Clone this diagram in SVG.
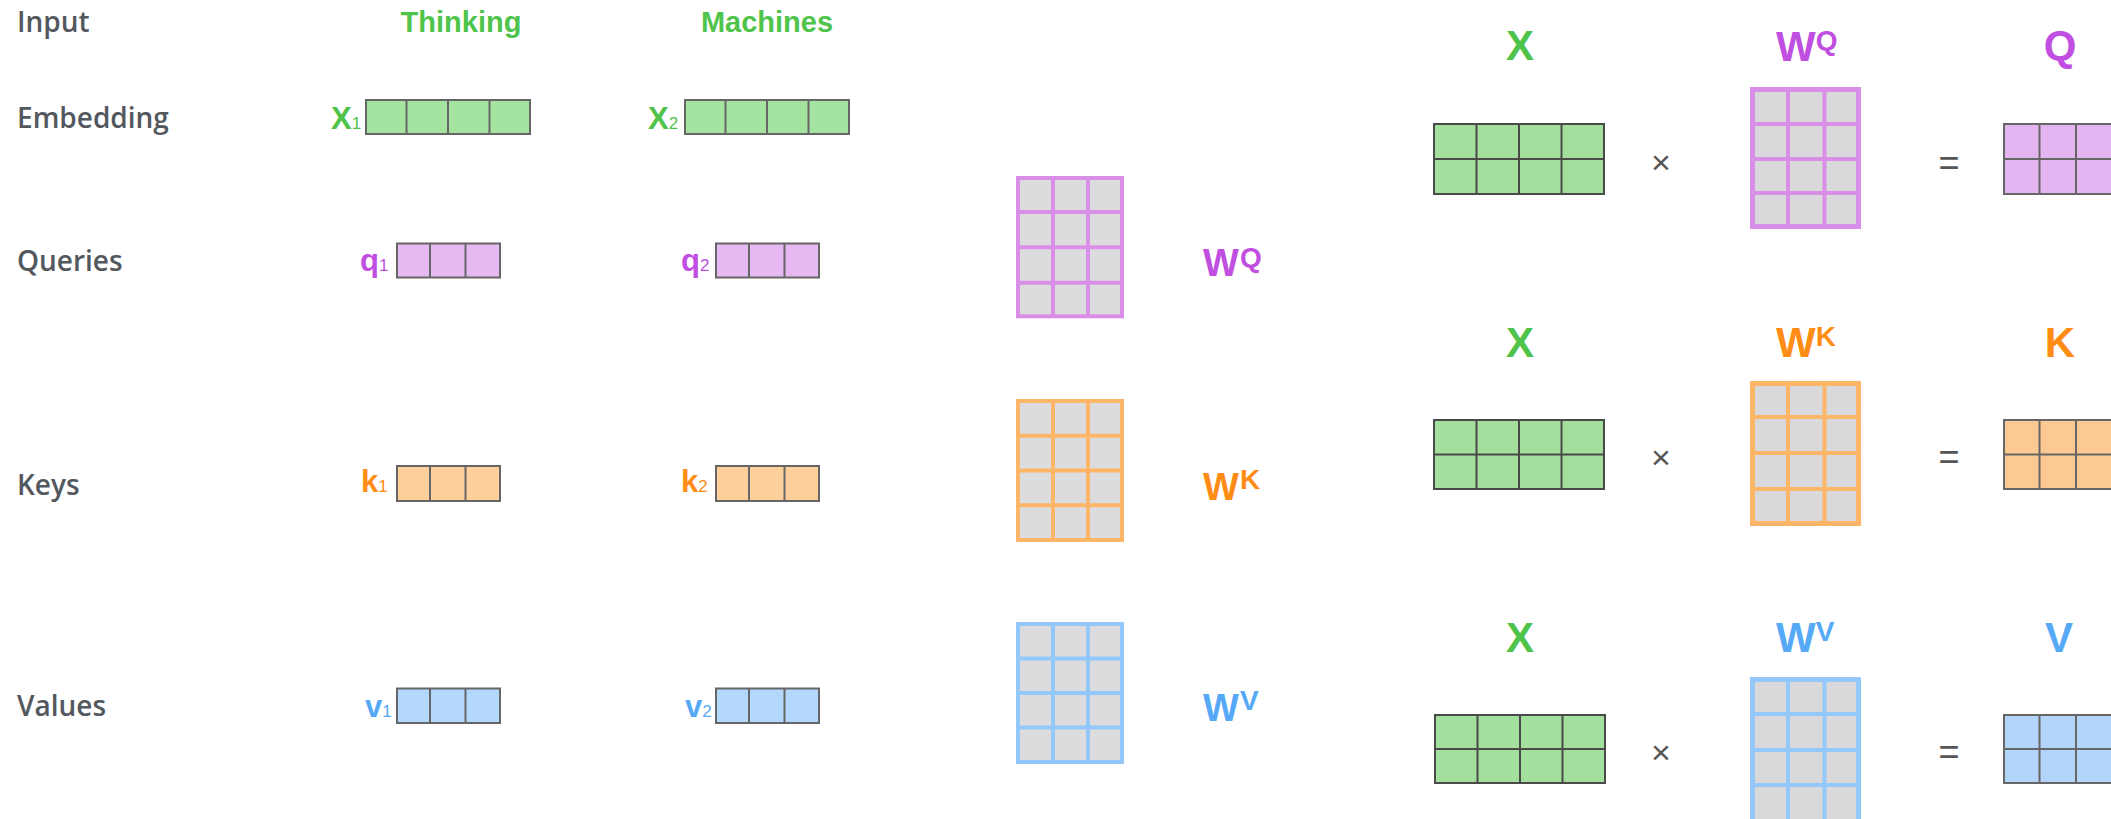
<svg xmlns="http://www.w3.org/2000/svg" width="2111" height="819" viewBox="0 0 2111 819">
<style>
.lbl{font-family:"Open Sans","Liberation Sans",sans-serif;font-size:28px;font-weight:600;fill:#53585e}
.word{font-family:"Liberation Sans",Arial,sans-serif;font-weight:bold;font-size:29px;fill:#4fc34a}
.ln{fill:none;stroke:#666;stroke-width:2}
.lnd{fill:none;stroke:#4a4a4a;stroke-width:2}
.big{font-family:"Liberation Sans",Arial,sans-serif;font-weight:bold;font-size:31px}
.sub{font-family:"Liberation Sans",Arial,sans-serif;font-size:17px}
.cg{fill:#4fc34a}.cp{fill:#c04ee0}.co{fill:#ff8c14}.cb{fill:#56a9f7}
.wm{fill:#dcdcdf;stroke-width:4}
.wmr{fill:#d9d9db;stroke-width:5}
.sp{stroke:#d98fe8}.so{stroke:#fdb567}.sb{stroke:#93c8fb}
.wl{font-family:"Liberation Sans",Arial,sans-serif;font-weight:bold;font-size:38px}
.ws{font-family:"Liberation Sans",Arial,sans-serif;font-weight:bold;font-size:28px}
.rl{font-family:"Liberation Sans",Arial,sans-serif;font-weight:bold;font-size:42px}
.op{font-family:"Liberation Sans",Arial,sans-serif;fill:#555;text-anchor:middle}
</style>
<rect width="2111" height="819" fill="#fff"/>

<g id="row-labels">
<text class="lbl" x="17" y="32">Input</text>
<text class="lbl" x="17" y="128">Embedding</text>
<text class="lbl" x="17" y="271">Queries</text>
<text class="lbl" x="17" y="495">Keys</text>
<text class="lbl" x="17" y="716">Values</text>
</g>

<g id="word-thinking"><text class="word" x="461" y="32" text-anchor="middle">Thinking</text></g>
<g id="word-machines"><text class="word" x="767" y="32" text-anchor="middle">Machines</text></g>

<g id="x1">
<rect class="ln" x="366" y="100" width="164" height="34" style="fill:#a5e3a0"/>
<path class="ln" d="M406.5 100V134M448 100V134M489.5 100V134"/>
<text class="cg" x="331" y="129"><tspan class="big">X</tspan><tspan class="sub">1</tspan></text>
</g>
<g id="x2">
<rect class="ln" x="685" y="100" width="164" height="34" style="fill:#a5e3a0"/>
<path class="ln" d="M725.5 100V134M767 100V134M808.5 100V134"/>
<text class="cg" x="648" y="129"><tspan class="big">X</tspan><tspan class="sub">2</tspan></text>
</g>

<g id="q1">
<rect class="ln" x="397" y="243.5" width="103" height="34" style="fill:#e7b9f3"/>
<path class="ln" d="M430 243.5V277.5M465.5 243.5V277.5"/>
<text class="cp" x="360" y="271"><tspan class="big">q</tspan><tspan class="sub">1</tspan></text>
</g>
<g id="q2">
<rect class="ln" x="716" y="243.5" width="103" height="34" style="fill:#e7b9f3"/>
<path class="ln" d="M749 243.5V277.5M784.5 243.5V277.5"/>
<text class="cp" x="681" y="271"><tspan class="big">q</tspan><tspan class="sub">2</tspan></text>
</g>

<g id="k1">
<rect class="ln" x="397" y="466" width="103" height="35" style="fill:#fdcf9b"/>
<path class="ln" d="M430 466V501M465.5 466V501"/>
<text class="co" x="361" y="492"><tspan class="big">k</tspan><tspan class="sub">1</tspan></text>
</g>
<g id="k2">
<rect class="ln" x="716" y="466" width="103" height="35" style="fill:#fdcf9b"/>
<path class="ln" d="M749 466V501M784.5 466V501"/>
<text class="co" x="681" y="492"><tspan class="big">k</tspan><tspan class="sub">2</tspan></text>
</g>

<g id="v1">
<rect class="ln" x="397" y="688.5" width="103" height="34.5" style="fill:#b4d8fb"/>
<path class="ln" d="M430 688.5V723M465.5 688.5V723"/>
<text class="cb" x="365" y="717"><tspan class="big">v</tspan><tspan class="sub">1</tspan></text>
</g>
<g id="v2">
<rect class="ln" x="716" y="688.5" width="103" height="34.5" style="fill:#b4d8fb"/>
<path class="ln" d="M749 688.5V723M784.5 688.5V723"/>
<text class="cb" x="685" y="717"><tspan class="big">v</tspan><tspan class="sub">2</tspan></text>
</g>

<g id="wq-left">
<rect class="wm sp" x="1018" y="178" width="104" height="138.3"/>
<path class="sp" stroke-width="4" fill="none" d="M1053 178V316.3M1088 178V316.3M1018 212H1122M1018 247.3H1122M1018 282.7H1122"/>
<text class="cp" x="1203" y="276"><tspan class="wl">W</tspan><tspan class="ws" dy="-9" dx="1">Q</tspan></text>
</g>
<g id="wk-left">
<rect class="wm so" x="1018" y="401" width="104" height="139"/>
<path class="so" stroke-width="4" fill="none" d="M1053 401V540M1088 401V540M1018 435.7H1122M1018 470.5H1122M1018 505.2H1122"/>
<text class="co" x="1203" y="500"><tspan class="wl">W</tspan><tspan class="ws" dy="-11" dx="1">K</tspan></text>
</g>
<g id="wv-left">
<rect class="wm sb" x="1018" y="624" width="104" height="138"/>
<path class="sb" stroke-width="4" fill="none" d="M1053 624V762M1088 624V762M1018 658.5H1122M1018 693H1122M1018 727.5H1122"/>
<text class="cb" x="1203" y="720.5"><tspan class="wl">W</tspan><tspan class="ws" dy="-11" dx="1">V</tspan></text>
</g>

<g id="xq">
<text class="rl cg" x="1520" y="60" text-anchor="middle">X</text>
<rect class="lnd" x="1434" y="124" width="170" height="70" style="fill:#a3e09d"/>
<path class="lnd" d="M1476.5 124V194M1519 124V194M1561.5 124V194M1434 159H1604"/>
</g>
<g id="op-times-q"><text class="op" x="1661" y="174" font-size="34">×</text></g>
<g id="wq-right">
<text class="cp" x="1776" y="61"><tspan class="rl">W</tspan><tspan class="ws" dy="-11">Q</tspan></text>
<rect class="wmr sp" x="1752.5" y="89.5" width="106" height="137"/>
<path class="sp" stroke-width="4" fill="none" d="M1788 89.5V226.5M1824.5 89.5V226.5M1752.5 124H1858.5M1752.5 159H1858.5M1752.5 193H1858.5"/>
</g>
<g id="op-eq-q"><text class="op" x="1949" y="174.5" font-size="36">=</text></g>
<g id="q-mat">
<text class="rl cp" x="2060" y="60" text-anchor="middle">Q</text>
<rect class="ln" x="2004" y="124" width="130" height="70" style="fill:#e4b5f0"/>
<path class="ln" d="M2039.5 124V194M2076 124V194M2004 159H2134"/>
</g>

<g id="xk">
<text class="rl cg" x="1520" y="356.5" text-anchor="middle">X</text>
<rect class="lnd" x="1434" y="420" width="170" height="69" style="fill:#a3e09d"/>
<path class="lnd" d="M1476.5 420V489M1519 420V489M1561.5 420V489M1434 454.5H1604"/>
</g>
<g id="op-times-k"><text class="op" x="1661" y="468.5" font-size="34">×</text></g>
<g id="wk-right">
<text class="co" x="1776" y="356.5"><tspan class="rl">W</tspan><tspan class="ws" dy="-11">K</tspan></text>
<rect class="wmr so" x="1752.5" y="383.5" width="106" height="140"/>
<path class="so" stroke-width="4" fill="none" d="M1788 383.5V523.5M1824.5 383.5V523.5M1752.5 417H1858.5M1752.5 453H1858.5M1752.5 489H1858.5"/>
</g>
<g id="op-eq-k"><text class="op" x="1949" y="468.5" font-size="36">=</text></g>
<g id="k-mat">
<text class="rl co" x="2060" y="356.5" text-anchor="middle">K</text>
<rect class="ln" x="2004" y="420" width="130" height="69" style="fill:#fdc993"/>
<path class="ln" d="M2039.5 420V489M2076 420V489M2004 454.5H2134"/>
</g>

<g id="xv">
<text class="rl cg" x="1520" y="651.5" text-anchor="middle">X</text>
<rect class="lnd" x="1435" y="715" width="170" height="68" style="fill:#a3e09d"/>
<path class="lnd" d="M1477.5 715V783M1520 715V783M1562.5 715V783M1435 749H1605"/>
</g>
<g id="op-times-v"><text class="op" x="1661" y="763.5" font-size="34">×</text></g>
<g id="wv-right">
<text class="cb" x="1776" y="651.5"><tspan class="rl">W</tspan><tspan class="ws" dy="-11">V</tspan></text>
<rect class="wmr sb" x="1752.5" y="679.5" width="106" height="145"/>
<path class="sb" stroke-width="4" fill="none" d="M1788 679.5V824M1824.5 679.5V824M1752.5 714H1858.5M1752.5 750H1858.5M1752.5 785H1858.5"/>
</g>
<g id="op-eq-v"><text class="op" x="1949" y="763.5" font-size="36">=</text></g>
<g id="v-mat">
<text class="rl cb" x="2059" y="651.5" text-anchor="middle">V</text>
<rect class="ln" x="2004" y="715" width="130" height="68" style="fill:#b3d5fa"/>
<path class="ln" d="M2039.5 715V783M2076 715V783M2004 749H2134"/>
</g>

<g id="connectors"></g>
</svg>
